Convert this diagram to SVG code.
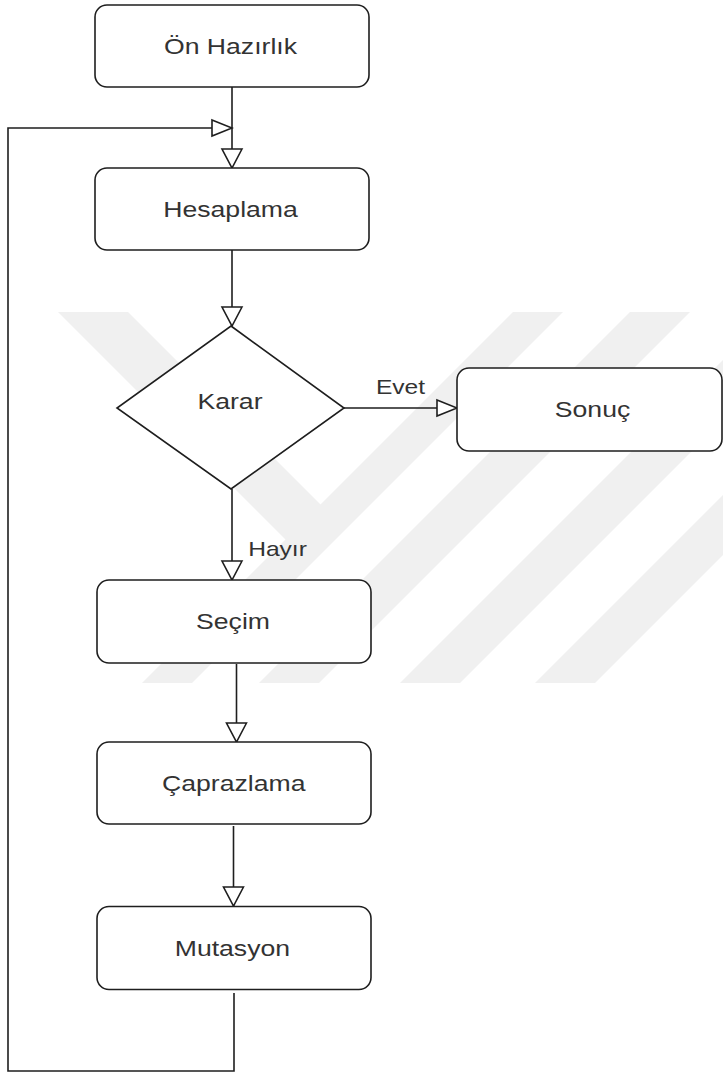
<svg xmlns="http://www.w3.org/2000/svg" width="723" height="1075" viewBox="0 0 723 1075">
  <style>
    .box { fill: #ffffff; stroke: #1e1e1e; stroke-width: 1.6; }
    .edge { fill: none; stroke: #1e1e1e; stroke-width: 1.6; }
    .lbl { font-family: "Liberation Sans", Arial, sans-serif; font-size: 22px; fill: #333333; text-anchor: middle; }
    .elbl { font-family: "Liberation Sans", Arial, sans-serif; font-size: 20.5px; fill: #333333; text-anchor: middle; }
    .mark { fill: #f0f0f0; }
  </style>
  <defs>
    <!-- hollow triangular heads: one for vertical runs, one for horizontal runs -->
    <marker id="headV" markerUnits="userSpaceOnUse" markerWidth="22" markerHeight="24" viewBox="0 0 22 24" refX="20" refY="12" orient="auto">
      <path d="M1,2 L20,12 L1,22 Z" fill="#ffffff" stroke="#1e1e1e" stroke-width="1.6"/>
    </marker>
    <marker id="headH" markerUnits="userSpaceOnUse" markerWidth="23" markerHeight="20" viewBox="0 0 23 20" refX="21" refY="10" orient="auto">
      <path d="M1,2 L21,10 L1,18 Z" fill="#ffffff" stroke="#1e1e1e" stroke-width="1.6"/>
    </marker>
  </defs>

  <rect width="723" height="1075" fill="#ffffff"/>

  <!-- pale background emblem -->
  <g id="emblem">
    <polygon class="mark" points="58,312 128,312 325,509 290,544"/>
    <polygon class="mark" points="513,312 563,312 192,683 142,683"/>
    <polygon class="mark" points="630,312 690,312 319,683 259,683"/>
    <polygon class="mark" points="723,360 723,420 460,683 400,683"/>
    <polygon class="mark" points="723,495 723,555 595,683 535,683"/>
  </g>

  <!-- connectors -->
  <g id="connectors">
    <path class="edge" d="M232,87 L232,168" marker-end="url(#headV)"/>
    <path class="edge" d="M234,993 L234,1071 L8,1071 L8,128 L232,128" marker-end="url(#headH)"/>
    <path class="edge" d="M232,250 L232,326" marker-end="url(#headV)"/>
    <path class="edge" d="M344,408 L457,408" marker-end="url(#headH)"/>
    <path class="edge" d="M232,489 L232,580" marker-end="url(#headV)"/>
    <path class="edge" d="M236.5,664 L236.5,742" marker-end="url(#headV)"/>
    <path class="edge" d="M233.5,826 L233.5,906" marker-end="url(#headV)"/>
    <g transform="translate(400.5,394) scale(1.2,1)"><text class="elbl" x="0" y="0">Evet</text></g>
    <g transform="translate(277.5,556) scale(1.2,1)"><text class="elbl" x="0" y="0">Hayır</text></g>
  </g>

  <!-- nodes -->
  <g id="on-hazirlik">
    <rect class="box" x="95" y="5" width="274" height="82" rx="12"/>
    <g transform="translate(230.5,54) scale(1.21,1)"><text class="lbl" x="0" y="0">Ön Hazırlık</text></g>
  </g>
  <g id="hesaplama">
    <rect class="box" x="95" y="168" width="274" height="82" rx="12"/>
    <g transform="translate(230.5,217) scale(1.21,1)"><text class="lbl" x="0" y="0">Hesaplama</text></g>
  </g>
  <g id="karar">
    <polygon class="box" points="231,326 344,408 231,489 117,408"/>
    <g transform="translate(230,409) scale(1.21,1)"><text class="lbl" x="0" y="0">Karar</text></g>
  </g>
  <g id="sonuc">
    <rect class="box" x="457" y="368" width="265" height="83" rx="12"/>
    <g transform="translate(592.5,417) scale(1.21,1)"><text class="lbl" x="0" y="0">Sonuç</text></g>
  </g>
  <g id="secim">
    <rect class="box" x="97" y="580" width="274" height="83" rx="12"/>
    <g transform="translate(233,629) scale(1.21,1)"><text class="lbl" x="0" y="0">Seçim</text></g>
  </g>
  <g id="caprazlama">
    <rect class="box" x="97" y="742" width="274" height="82" rx="12"/>
    <g transform="translate(233.7,791) scale(1.21,1)"><text class="lbl" x="0" y="0">Çaprazlama</text></g>
  </g>
  <g id="mutasyon">
    <rect class="box" x="97" y="906.5" width="274" height="83" rx="12"/>
    <g transform="translate(232.4,956) scale(1.21,1)"><text class="lbl" x="0" y="0">Mutasyon</text></g>
  </g>
</svg>
